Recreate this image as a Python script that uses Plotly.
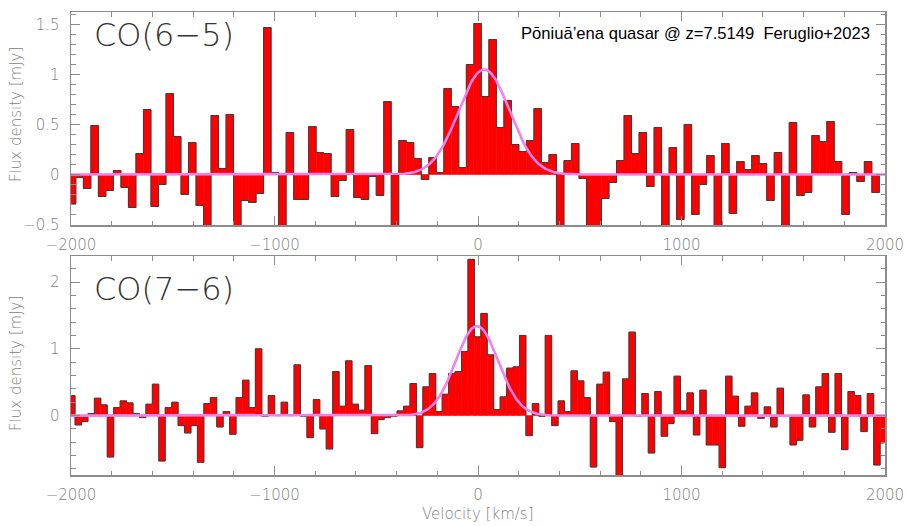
import numpy as np
import plotly.graph_objects as go

# ---------------- data ----------------
# channel grid (km/s): centres at k*dv + offset
dv_co65 = 36.9
dv_co76 = 31.65
v_offset = -2.0
k_co65 = np.arange(-54, 55)
k_co76 = np.arange(-63, 64)

flux_co65 = [
    -0.29, -0.03, -0.14, 0.49, -0.22, -0.16, 0.04, -0.13, -0.33, 0.21,
    0.65, -0.32, -0.10, 0.81, 0.38, -0.20, 0.32, -0.31, -0.60, 0.59,
    0.06, 0.60, -0.60, -0.26, -0.28, -0.19, 1.47, 0.02, -0.60, 0.42,
    -0.25, -0.25, 0.48, 0.22, 0.21, -0.22, -0.06, 0.45, -0.23, -0.25,
    -0.02, -0.21, 0.73, -0.60, 0.34, 0.32, 0.16, -0.05, 0.17, 0.02,
    0.86, 0.68, 0.07, 1.10, 1.51, 0.78, 1.35, 0.47, 0.74, 0.30,
    0.23, 0.34, 0.66, 0.12, 0.20, -0.60, 0.14, 0.31, -0.04, -0.60,
    -0.60, -0.24, -0.08, 0.14, 0.59, 0.21, 0.42, -0.12, 0.47, -0.60,
    0.27, -0.45, 0.50, -0.40, -0.10, 0.19, -0.60, 0.31, -0.39, 0.13,
    0.05, 0.19, 0.11, -0.26, 0.22, -0.60, 0.52, -0.21, -0.18, 0.39,
    0.33, 0.53, 0.13, -0.40, 0.02, -0.07, 0.13, -0.18, 0.00,
]

flux_co76 = [
    0.30, -0.14, -0.09, 0.03, 0.26, 0.16, -0.62, 0.12, 0.22, 0.19,
    0.03, -0.03, 0.17, 0.47, -0.68, 0.12, 0.20, -0.15, -0.26, -0.15,
    -0.70, 0.18, 0.27, -0.17, 0.06, -0.28, 0.27, 0.53, 0.12, 1.00,
    -0.01, 0.30, 0.00, 0.20, 0.00, 0.76, -0.01, -0.33, 0.24, -0.20,
    -0.50, 0.66, 0.14, 0.82, 0.17, 0.08, 0.75, -0.27, -0.06, -0.03,
    -0.01, 0.07, 0.14, 0.48, -0.48, 0.43, 0.63, 0.06, 0.32, 0.63,
    0.66, 0.96, 2.34, 1.18, 1.53, 0.91, 0.09, 0.28, 0.71, 0.73,
    1.20, -0.30, 0.18, -0.01, 1.20, -0.15, 0.22, 0.06, 0.67, 0.52,
    0.27, -0.77, 0.47, 0.65, -0.09, -0.95, 0.55, 1.25, -0.01, 0.33,
    -0.56, 0.36, -0.31, -0.12, 0.59, 0.07, 0.34, -0.29, 0.38, -0.44,
    -0.44, -0.78, 0.59, 0.29, -0.16, 0.14, 0.34, -0.04, 0.13, -0.17,
    0.41, -0.01, -0.44, -0.37, 0.31, -0.17, 0.43, 0.63, -0.25, 0.63,
    -0.51, 0.36, 0.30, -0.24, 0.33, -0.74, -0.41,
]

# Gaussian fit parameters (amplitude mJy, centre km/s, sigma km/s)
fit_co65 = (1.05, 30.0, 125.0)
fit_co76 = (1.34, -5.0, 105.0)

x_ticks = [-2000, -1000, 0, 1000, 2000]
x_ticktext = ["\u22122000", "\u22121000", "0", "1000", "2000"]
y_ticks_top = [-0.5, 0, 0.5, 1, 1.5]
y_ticktext_top = ["\u22120.5", "0", "0.5", "1", "1.5"]
y_ticks_bot = [0, 1, 2]
y_ticktext_bot = ["0", "1", "2"]

# ---------------- figure ----------------
W, H = 907, 526
v65 = k_co65 * dv_co65 + v_offset
v76 = k_co76 * dv_co76 + v_offset
vmod = np.linspace(-2000, 2000, 801)


def gauss(v, p):
    a, c, s = p
    return a * np.exp(-0.5 * ((v - c) / s) ** 2)


fig = go.Figure()

for v, f, dv, p, xa, ya in [
    (v65, flux_co65, dv_co65, fit_co65, "x", "y"),
    (v76, flux_co76, dv_co76, fit_co76, "x2", "y2"),
]:
    fig.add_trace(go.Bar(x=v, y=f, width=dv, xaxis=xa, yaxis=ya,
                         marker=dict(color="#ff0000", line=dict(width=0.6, color="#ff0000")),
                         showlegend=False, hoverinfo="skip"))
    fig.add_trace(go.Scatter(x=v, y=f, xaxis=xa, yaxis=ya, mode="lines",
                             line=dict(shape="hvh", color="#3c3c3c", width=1),
                             showlegend=False, hoverinfo="skip"))
    fig.add_trace(go.Scatter(x=vmod, y=gauss(vmod, p), xaxis=xa, yaxis=ya, mode="lines",
                             line=dict(color="#ee82ee", width=2.6),
                             showlegend=False, hoverinfo="skip"))

axcol = "#8c8c8c"
tickfont = dict(family="DejaVu Sans", size=15, color="#808080", weight=300)

def xax(anchor):
    return dict(range=[-2000, 2000], domain=[71 / W, 885 / W], anchor=anchor,
                automargin=False,
                showline=True, linecolor=axcol, linewidth=1.5, mirror="ticks",
                ticks="inside", ticklen=9, tickwidth=1, tickcolor=axcol,
                tickvals=x_ticks, ticktext=x_ticktext, tickfont=tickfont,
                ticklabelstandoff=5,
                minor=dict(ticks="inside", ticklen=4.5, dtick=200, tick0=0,
                           tickcolor=axcol, tickwidth=1, showgrid=False),
                showgrid=False, zeroline=False)

def yax(anchor, rng, dom, tv, tt, mdt):
    return dict(range=rng, domain=dom, anchor=anchor,
                automargin=False,
                showline=True, linecolor=axcol, linewidth=1.5, mirror="ticks",
                ticks="inside", ticklen=9, tickwidth=1, tickcolor=axcol,
                tickvals=tv, ticktext=tt, tickfont=tickfont,
                ticklabelstandoff=7,
                minor=dict(ticks="inside", ticklen=4.5, dtick=mdt, tick0=0,
                           tickcolor=axcol, tickwidth=1, showgrid=False),
                showgrid=False, zeroline=False)

fig.update_layout(
    width=W, height=H, margin=dict(l=0, r=0, t=0, b=0, autoexpand=False),
    paper_bgcolor="white", plot_bgcolor="white", bargap=0,
    xaxis=xax("y"),
    yaxis=yax("x", [-0.505, 1.625], [1 - 225 / H, 1 - 12 / H], y_ticks_top, y_ticktext_top, 0.1),
    xaxis2=xax("y2"),
    yaxis2=yax("x2", [-0.89, 2.39], [1 - 475 / H, 1 - 256 / H], y_ticks_bot, y_ticktext_bot, 0.2),
)

big = dict(family="DejaVu Sans", size=32, color="#333333", weight=200)
gray = dict(family="DejaVu Sans", size=15, color="#808080", weight=300)
ann = [
    dict(text="CO(6\u22125)", x=92 / W, y=1 - 35 / H, xanchor="left", yanchor="middle", font=big),
    dict(text="CO(7\u22126)", x=92 / W, y=1 - 289 / H, xanchor="left", yanchor="middle", font=big),
    dict(text="P\u014dniu\u0101\u2019ena quasar @ z=7.5149  Feruglio+2023",
         x=872 / W, y=1 - 33 / H, xanchor="right", yanchor="middle",
         font=dict(family="Liberation Sans", size=16.6, color="#000000")),
    dict(text="Flux density [mJy]", x=16 / W, y=1 - 115 / H, textangle=-90,
         xanchor="center", yanchor="middle", font=gray),
    dict(text="Flux density [mJy]", x=16 / W, y=1 - 364 / H, textangle=-90,
         xanchor="center", yanchor="middle", font=gray),
    dict(text="Velocity [km/s]", x=478 / W, y=1 - 514 / H,
         xanchor="center", yanchor="middle", font=gray),
]
for a in ann:
    a.update(xref="paper", yref="paper", showarrow=False)
fig.update_layout(annotations=ann)

fig.write_html("out.html", config={"displayModeBar": False, "staticPlot": True},
               post_script="document.body.style.margin='0';document.body.style.overflow='hidden';")
